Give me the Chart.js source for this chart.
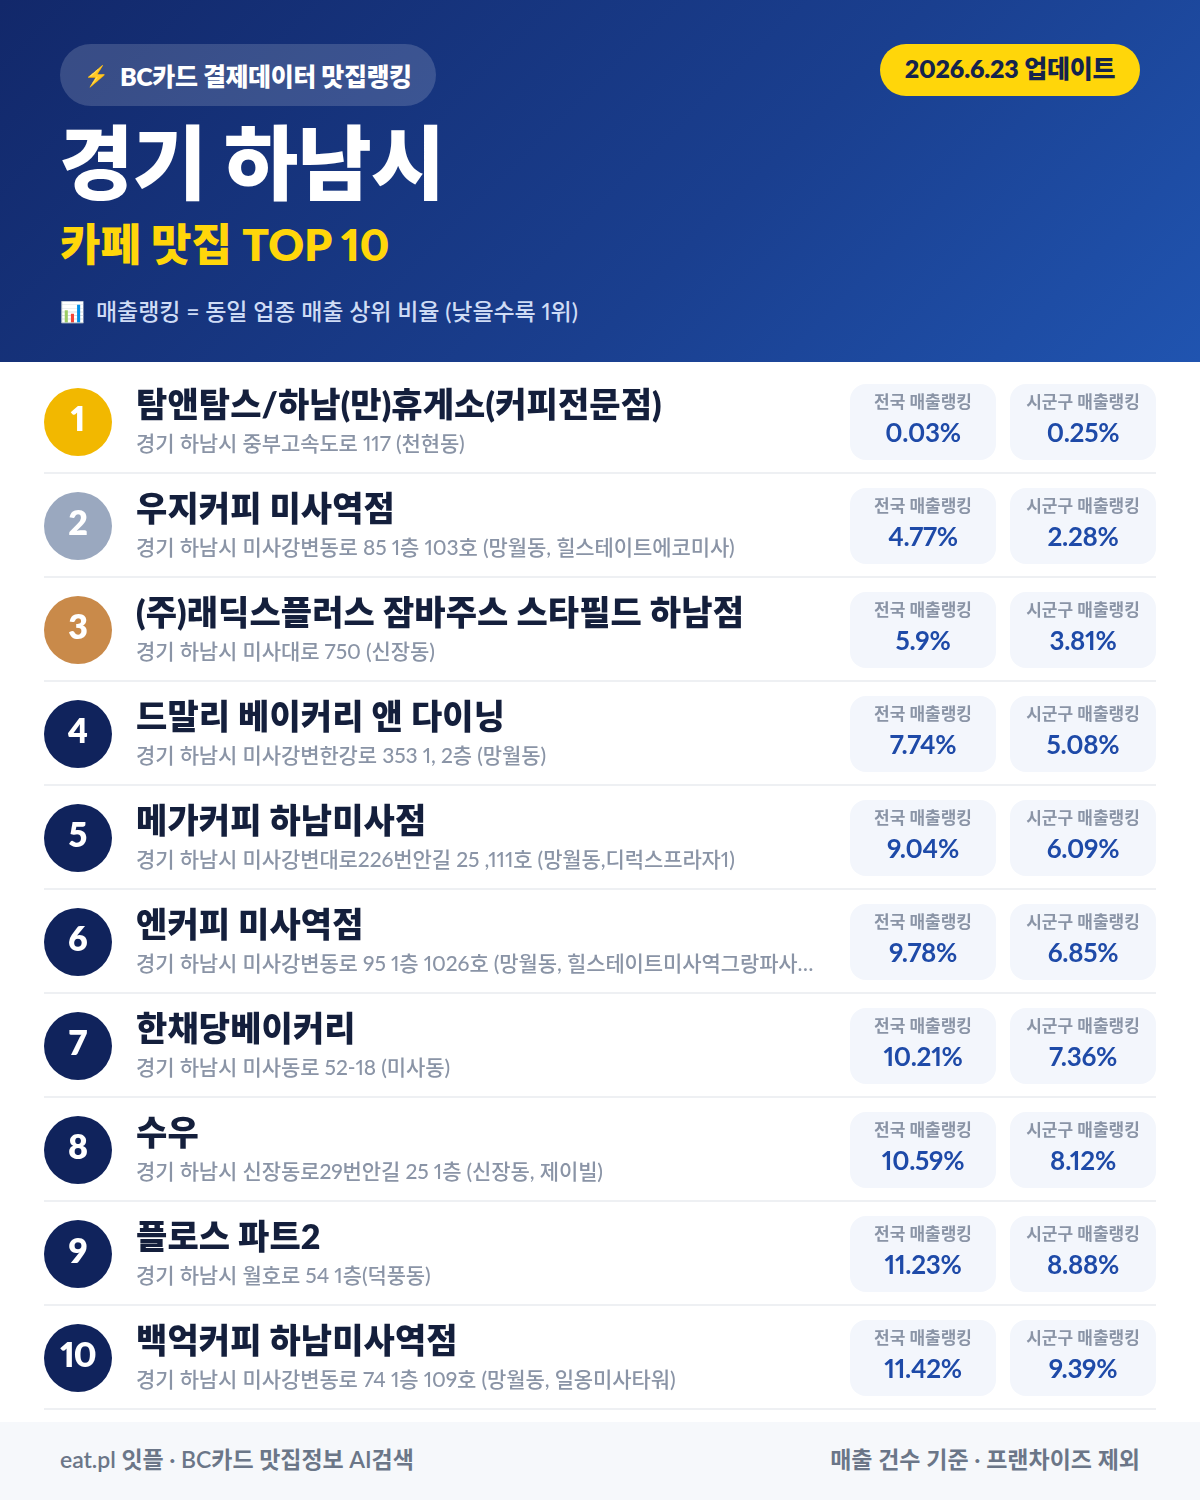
<!DOCTYPE html>
<html lang="ko">
<head>
<meta charset="utf-8">
<title>경기 하남시 카페 맛집 TOP 10</title>
<script src="https://cdn.jsdelivr.net/npm/chart.js@4"></script>
<style>
  * { margin: 0; padding: 0; box-sizing: border-box; }
  html, body { width: 1200px; height: 1500px; background: #fff; overflow: hidden; }
  body { position: relative; font-family: Lato, "Noto Sans CJK KR", sans-serif; font-variant-numeric: proportional-nums; }
  .t { position: absolute; white-space: nowrap; line-height: 1; }
  #header { position: absolute; left: 0; top: 0; width: 1200px; height: 362px; background: linear-gradient(135deg, #12286a 0%, #1a3f8f 60%, #2054b0 100%); }
  #badge { position: absolute; left: 60px; top: 44px; width: 376px; height: 62px; border-radius: 31px; background: rgba(255,255,255,.16); }
  #date { position: absolute; left: 880px; top: 44px; width: 260px; height: 52px; border-radius: 26px; background: #ffd60a; }
  #wrap { position: absolute; left: 0; top: 362px; width: 1200px; height: 1060px; }
  #footer { position: absolute; left: 0; top: 1422px; width: 1200px; height: 78px; background: #f6f8fb; }
</style>
</head>
<body>
<div id="header">
  <div id="badge"></div>
  <div class="t" style="left:84px;top:65px;font-size:20px">⚡</div>
  <div class="t" style="left:120px;top:64px;font-size:25px;font-weight:800;color:#fff;letter-spacing:-.4px">BC카드 결제데이터 맛집랭킹</div>
  <div id="date"></div>
  <div class="t" style="left:880px;width:260px;text-align:center;top:56px;font-size:25px;font-weight:800;color:#14234d;letter-spacing:-.2px">2026.6.23 업데이트</div>
  <div class="t" style="left:59px;top:121px;font-size:81px;font-weight:800;color:#fff;letter-spacing:-1px">경기 하남시</div>
  <div class="t" style="left:60px;top:222px;font-size:44px;font-weight:800;color:#ffd60a">카페 맛집 TOP 10</div>
  <div class="t" style="left:60px;top:301px;font-size:20px">📊</div>
  <div class="t" style="left:96px;top:300px;font-size:23px;font-weight:500;color:#cfdcf5;letter-spacing:-.05px">매출랭킹 = 동일 업종 매출 상위 비율 (낮을수록 1위)</div>
</div>
<div id="wrap"><canvas id="rankChart" width="1200" height="1060" style="font-variant-numeric: proportional-nums"></canvas></div>
<div id="footer">
  <div class="t" style="left:60px;top:26px;font-size:23px;font-weight:600;color:#6b7688;letter-spacing:-.05px">eat.pl 잇플 · BC카드 맛집정보 AI검색</div>
  <div class="t" style="right:60px;top:26px;font-size:23px;font-weight:600;color:#6b7688">매출 건수 기준 · 프랜차이즈 제외</div>
</div>
<script>
const ranks = ['1', '2', '3', '4', '5', '6', '7', '8', '9', '10']
const names = [
  '탐앤탐스/하남(만)휴게소(커피전문점)',
  '우지커피 미사역점',
  '(주)래딕스플러스 잠바주스 스타필드 하남점',
  '드말리 베이커리 앤 다이닝',
  '메가커피 하남미사점',
  '엔커피 미사역점',
  '한채당베이커리',
  '수우',
  '플로스 파트2',
  '백억커피 하남미사역점'
]
const addresses = [
  '경기 하남시 중부고속도로 117 (천현동)',
  '경기 하남시 미사강변동로 85 1층 103호 (망월동, 힐스테이트에코미사)',
  '경기 하남시 미사대로 750 (신장동)',
  '경기 하남시 미사강변한강로 353 1, 2층 (망월동)',
  '경기 하남시 미사강변대로226번안길 25 ,111호 (망월동,디럭스프라자1)',
  '경기 하남시 미사강변동로 95 1층 1026호 (망월동, 힐스테이트미사역그랑파사…',
  '경기 하남시 미사동로 52-18 (미사동)',
  '경기 하남시 신장동로29번안길 25 1층 (신장동, 제이빌)',
  '경기 하남시 월호로 54 1층(덕풍동)',
  '경기 하남시 미사강변동로 74 1층 109호 (망월동, 일옹미사타워)'
]
const nationalRank = [0.03, 4.77, 5.9, 7.74, 9.04, 9.78, 10.21, 10.59, 11.23, 11.42]
const localRank = [0.25, 2.28, 3.81, 5.08, 6.09, 6.85, 7.36, 8.12, 8.88, 9.39]

const FONT = 'Lato, "Noto Sans CJK KR", sans-serif'
const medalColors = ['#f2b800', '#9aa8bf', '#c98a4a']
const navy = '#10235c'

const drawText = (ctx, text, x, y, font, color, align, spacing) => {
  ctx.font = font + ' ' + FONT
  ctx.fillStyle = color
  ctx.textAlign = align
  ctx.textBaseline = 'middle'
  ctx.letterSpacing = spacing || '0px'
  ctx.fillText(text, x, y)
}

// the rows are laid out from the category scale, the pills read the dataset values
const rowsPlugin = {
  id: 'rows',
  afterDatasetsDraw (chart) {
    const { ctx, scales: { y } } = chart
    const columns = [
      { left: 850, width: 146, label: '전국 매출랭킹', values: chart.data.datasets[0].data },
      { left: 1010, width: 146, label: '시군구 매출랭킹', values: chart.data.datasets[1].data }
    ]
    ctx.save()
    ranks.forEach((rank, i) => {
      const cy = y.getPixelForTick(i)

      ctx.fillStyle = '#eef0f3'
      ctx.fillRect(44, cy + 50, 1112, 2)

      ctx.fillStyle = medalColors[i] || navy
      ctx.beginPath()
      ctx.arc(78, cy, 34, 0, Math.PI * 2)
      ctx.fill()
      drawText(ctx, rank, 78, cy - 2, '800 34px', '#fff', 'center', rank.length > 1 ? '-1px' : '0px')

      drawText(ctx, names[i], 136, cy - 16, '800 34px', '#141f3c', 'left', '0.1px')
      drawText(ctx, addresses[i], 136, cy + 22, '500 21px', '#8a94a6', 'left', '-0.1px')

      columns.forEach(col => {
        ctx.fillStyle = '#f3f6fc'
        ctx.beginPath()
        ctx.roundRect(col.left, cy - 38, col.width, 76, 16)
        ctx.fill()
        const mid = col.left + col.width / 2
        drawText(ctx, col.label, mid, cy - 19, '700 17px', '#8a94a6', 'center', '0px')
        drawText(ctx, col.values[i] + '%', mid, cy + 12, '700 26px', '#1e4aa8', 'center', '-0.3px')
      })
    })
    ctx.restore()
  }
}

new Chart('rankChart', {
  type: 'bar',
  data: {
    labels: ranks,
    datasets: [
      { label: '전국 매출랭킹', data: nationalRank, backgroundColor: 'transparent' },
      { label: '시군구 매출랭킹', data: localRank, backgroundColor: 'transparent' }
    ]
  },
  options: {
    indexAxis: 'y',
    responsive: false,
    animation: false,
    layout: { padding: { top: 8, bottom: 12, left: 0, right: 0 } },
    plugins: { legend: { display: false }, tooltip: { enabled: false } },
    scales: {
      x: { display: false, min: 0, max: 12 },
      y: { display: false }
    }
  },
  plugins: [rowsPlugin]
})
</script>
</body>
</html>
